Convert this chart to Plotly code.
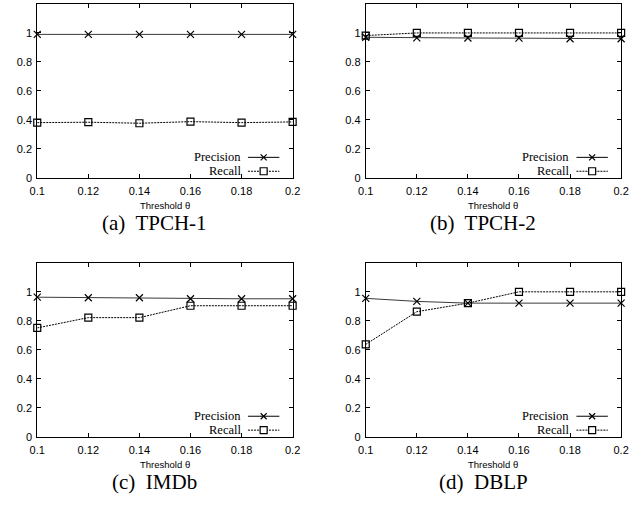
import plotly.graph_objects as go
from plotly.subplots import make_subplots

thresholds = [0.1, 0.12, 0.14, 0.16, 0.18, 0.2]
x_tick_text = ["0.1", "0.12", "0.14", "0.16", "0.18", "0.2"]
y_tick_vals = [0, 0.2, 0.4, 0.6, 0.8, 1.0]
y_tick_text = ["0", "0.2", "0.4", "0.6", "0.8", "1"]

panel_names = ["(a)  TPCH-1", "(b)  TPCH-2", "(c)  IMDb", "(d)  DBLP"]

precision_tpch1 = [0.99, 0.99, 0.99, 0.99, 0.99, 0.99]
recall_tpch1 = [0.381, 0.384, 0.377, 0.388, 0.381, 0.386]

precision_tpch2 = [0.97, 0.966, 0.965, 0.964, 0.96, 0.96]
recall_tpch2 = [0.982, 1.0, 1.0, 1.0, 1.0, 1.0]

precision_imdb = [0.963, 0.959, 0.959, 0.952, 0.952, 0.952]
recall_imdb = [0.751, 0.822, 0.822, 0.904, 0.904, 0.904]

precision_dblp = [0.955, 0.934, 0.922, 0.922, 0.922, 0.922]
recall_dblp = [0.637, 0.863, 0.922, 1.0, 1.0, 1.0]

precisions = [precision_tpch1, precision_tpch2, precision_imdb, precision_dblp]
recalls = [recall_tpch1, recall_tpch2, recall_imdb, recall_dblp]

W, H = 634, 506
fig = make_subplots(rows=2, cols=2)

# pixel layout of panels
x_doms = [(30, 292), (367, 629)]
y_doms = [(4, 180), (266, 442)]

sans = "Liberation Sans, Arial, sans-serif"
serif = "Liberation Serif, Times New Roman, serif"

for i in range(4):
    r, c = i // 2 + 1, i % 2 + 1
    fig.add_trace(go.Scatter(
        x=thresholds, y=precisions[i], mode="lines+markers",
        line=dict(color="#3a3a3a", width=1),
        marker=dict(symbol="x-thin-open", size=7, color="black",
                    line=dict(color="black", width=1.2)),
        cliponaxis=False, showlegend=False, name="Precision"), row=r, col=c)
    fig.add_trace(go.Scatter(
        x=thresholds, y=recalls[i], mode="lines+markers",
        line=dict(color="black", width=1, dash="2px,1px"),
        marker=dict(symbol="square-open", size=7, color="black",
                    line=dict(color="black", width=1.2)),
        cliponaxis=False, showlegend=False, name="Recall"), row=r, col=c)

axis_common = dict(showline=True, linecolor="black", linewidth=1, mirror="ticks",
                   ticks="inside", ticklen=4, tickcolor="black", showgrid=False,
                   zeroline=False, tickfont=dict(family=sans, size=11, color="black"))

for i in range(4):
    xd = x_doms[i % 2]
    yd = y_doms[i // 2]
    sfx = "" if i == 0 else str(i + 1)
    fig.layout["xaxis" + sfx].update(
        domain=[xd[0] / W, xd[1] / W], range=[0.1, 0.2],
        tickvals=thresholds, ticktext=x_tick_text, ticklabelstandoff=3,
        **axis_common)
    fig.layout["yaxis" + sfx].update(
        domain=[1 - yd[1] / H, 1 - yd[0] / H], range=[0, 1.2],
        tickvals=y_tick_vals, ticktext=y_tick_text, ticklabelstandoff=2,
        **axis_common)

    xr = "x" + sfx + " domain"
    yr = "y" + sfx + " domain"
    ph = yd[1] - yd[0]
    # axis title and caption
    fig.add_annotation(text="Threshold θ", xref=xr, yref=yr, x=0.5, y=-28 / ph,
                       showarrow=False, xanchor="center", yanchor="middle",
                       font=dict(family=sans, size=9.5, color="black"))
    fig.add_annotation(text=panel_names[i], xref=xr, yref=yr, x=0.46, y=-46 / ph,
                       showarrow=False, xanchor="center", yanchor="middle",
                       font=dict(family=serif, size=21, color="black"))
    # legend
    rows = [("Precision", 0.118, "solid", "x"), ("Recall", 0.038, "2px,1px", "sq")]
    for label, yy, dash, sym in rows:
        fig.add_annotation(text=label, xref=xr, yref=yr, x=0.80, y=yy,
                           showarrow=False, xanchor="right", yanchor="middle",
                           font=dict(family=serif, size=12.5, color="black"),
                           borderpad=0)
        fig.add_shape(type="line", xref=xr, yref=yr, x0=0.825, x1=0.948, y0=yy, y1=yy,
                      line=dict(color="black", width=1, dash=dash))
        xc = 0.8865
        if sym == "x":
            for a, b in [(-3, 3), (3, -3)]:
                fig.add_shape(type="line", xref=xr, yref=yr, xsizemode="pixel",
                              ysizemode="pixel", xanchor=xc, yanchor=yy,
                              x0=-3, x1=3, y0=a, y1=b,
                              line=dict(color="black", width=1.2))
        else:
            fig.add_shape(type="rect", xref=xr, yref=yr, xsizemode="pixel",
                          ysizemode="pixel", xanchor=xc, yanchor=yy,
                          x0=-3.5, x1=3.5, y0=-3.5, y1=3.5, fillcolor="white",
                          line=dict(color="black", width=1.2))

fig.update_layout(width=W, height=H, autosize=False,
                  margin=dict(l=0, r=0, t=0, b=0),
                  plot_bgcolor="white", paper_bgcolor="white",
                  showlegend=False)

fig.write_html("out.html", config={"displayModeBar": False},
               post_script="document.body.style.margin='0';document.body.style.padding='0';document.body.style.overflow='hidden';")
